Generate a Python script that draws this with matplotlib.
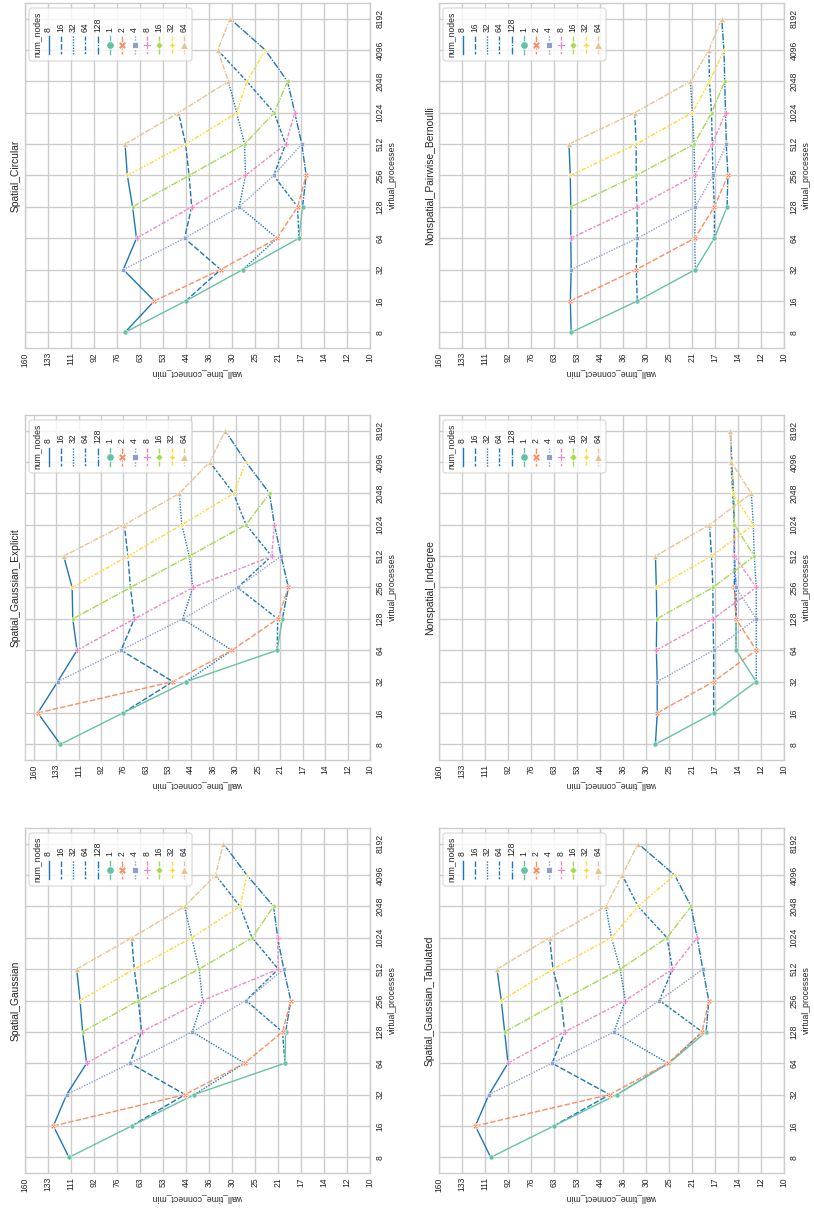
import numpy as np
import matplotlib
matplotlib.use("Agg")
import matplotlib.pyplot as plt
from matplotlib.lines import Line2D
from matplotlib.patches import FancyBboxPatch
from matplotlib.ticker import FixedLocator, NullLocator

plt.rcParams['font.family'] = ['Liberation Sans', 'DejaVu Sans']

# ---------------- data ----------------
num_nodes = [8, 16, 32, 64, 128]
threads = [1, 2, 4, 8, 16, 32, 64]
vp_ticks = [8, 16, 32, 64, 128, 256, 512, 1024, 2048, 4096, 8192]

# wall_time_connect_min ; rows = threads per node (1..64), columns = num_nodes (8..128)
spatial_gaussian = [
    [112.4, 67.9, 41.1, 19.8, 19.7],
    [127.4, 44.2, 27.4, 20.2, 18.9],
    [114.5, 68.8, 41.7, 27.1, 20.0],
    [97.5, 62.7, 38.4, 20.9, 21.0],
    [100.7, 64.3, 39.5, 25.8, 21.7],
    [102.8, 66.5, 41.9, 28.4, 26.9],
    [105.6, 67.9, 44.4, 34.6, 32.5],
]
spatial_gaussian_explicit = [
    [128.4, 76.7, 45.5, 21.5, 20.6],
    [154.8, 50.8, 31.2, 21.4, 19.6],
    [131.3, 77.9, 46.9, 29.8, 20.8],
    [112.0, 69.8, 43.1, 22.5, 22.0],
    [116.0, 72.1, 44.4, 27.8, 22.9],
    [116.6, 73.6, 47.2, 30.8, 27.8],
    [125.0, 75.8, 48.2, 37.5, 33.0],
]
spatial_circular = [
    [71.6, 44.0, 27.8, 17.7, 17.2],
    [56.6, 33.2, 21.1, 17.9, 16.7],
    [72.6, 44.4, 28.6, 21.7, 17.3],
    [65.3, 41.9, 27.2, 19.7, 18.3],
    [67.4, 42.8, 27.4, 21.6, 19.4],
    [70.3, 44.0, 29.2, 26.9, 23.2],
    [71.6, 46.6, 31.2, 34.0, 30.8],
]
spatial_gaussian_tabulated = [
    [105.6, 63.6, 38.3, 25.2, 18.7],
    [119.5, 40.6, 25.4, 19.3, 18.3],
    [107.1, 64.5, 39.2, 27.2, 19.2],
    [91.9, 58.3, 35.8, 24.5, 20.1],
    [94.4, 59.9, 37.3, 25.6, 21.1],
    [97.0, 64.0, 40.0, 32.3, 24.1],
    [100.4, 65.8, 41.9, 36.7, 32.3],
]
nonspatial_indegree = [
    [28.1, 17.6, 12.5, 14.7, 14.7],
    [27.7, 17.6, 12.5, 14.7, 14.9],
    [27.7, 17.6, 12.5, 14.7, 14.9],
    [27.9, 17.7, 12.5, 14.9, 14.9],
    [27.8, 17.7, 12.7, 14.9, 15.0],
    [27.9, 17.9, 12.8, 15.1, 15.2],
    [28.1, 18.2, 13.0, 15.3, 15.4],
]
nonspatial_pairwise_bernoulli = [
    [55.3, 32.5, 20.4, 17.5, 15.8],
    [55.7, 32.8, 20.5, 17.5, 15.7],
    [55.3, 32.5, 20.4, 17.7, 15.9],
    [55.5, 32.6, 20.5, 17.8, 16.0],
    [55.5, 32.8, 20.6, 17.9, 16.1],
    [55.7, 32.8, 20.9, 18.2, 16.2],
    [56.3, 33.2, 21.2, 18.3, 16.5],
]

panel_titles = ["Spatial_Gaussian", "Spatial_Gaussian_Explicit", "Spatial_Circular",
                "Spatial_Gaussian_Tabulated", "Nonspatial_Indegree",
                "Nonspatial_Pairwise_Bernoulli"]
panel_data = [spatial_gaussian, spatial_gaussian_explicit, spatial_circular,
              spatial_gaussian_tabulated, nonspatial_indegree,
              nonspatial_pairwise_bernoulli]
panel_wall_top = [160, 172, 160, 160, 160, 160]

# ---------------- styles ----------------
W, H = 814, 1214
BLUE = '#1f77b4'
set2 = ['#66c2a5', '#fc8d62', '#8da0cb', '#e78ac3', '#a6d854', '#ffd92f', '#e5c494']
dash_list = [(), (4, 1.5), (1, 1), (3, 1.25, 1.5, 1.25), (5, 1, 1, 1),
             (3, 1.25, 1.25, 1.25, 1.25, 1.25), (4, 1, 4, 1, 1, 1)]
marker_list = ['o', 'X', (4, 0, 45), 'P', (4, 0, 0), (4, 1, 0), '^']
GRID = '#cccccc'
TXT = '#262626'
LW = 1.0
FS = 6.2

# axes placement in pixels (left, top) ; size 345x345
AX = 345
col_left = [25, 439]
row_top = [3, 415, 828]
# panel index -> (col, row) in this rotated layout
panel_pos = {0: (0, 2), 1: (0, 1), 2: (0, 0), 3: (1, 2), 4: (1, 1), 5: (1, 0)}

wall_ticks = np.geomspace(10, 160, 16)
wall_labels = [str(int(round(v))) for v in wall_ticks]

fig = plt.figure(figsize=(W / 100, H / 100), dpi=100)


def ls(d):
    return '-' if len(d) == 0 else (0, d)


def legend(ax):
    def fx(px):
        return px / AX

    def fy(py):
        return 1 - py / AX

    box = FancyBboxPatch((fx(4), fy(58)), fx(163), 53 / AX,
                         boxstyle="round,pad=0,rounding_size=0.008",
                         transform=ax.transAxes, facecolor='white', alpha=0.8,
                         edgecolor=GRID, lw=0.8, zorder=5)
    ax.add_patch(box)
    ax.text(fx(12.5), fy(31.5), 'num_nodes', transform=ax.transAxes, rotation=90,
            ha='center', va='center', fontsize=FS, color=TXT, zorder=6)
    labels = [str(n) for n in num_nodes] + [str(t) for t in threads]
    for i, lab in enumerate(labels):
        x = fx(23.5 + 12.3 * i)
        ax.text(x, fy(28.5), lab, transform=ax.transAxes, rotation=90,
                ha='center', va='bottom', fontsize=FS, color=TXT, zorder=6)
        if i < len(num_nodes):
            ax.add_line(Line2D([x, x], [fy(33), fy(51)], transform=ax.transAxes,
                               color=BLUE, lw=LW, linestyle=ls(dash_list[i]), zorder=6))
        else:
            j = i - len(num_nodes)
            ax.add_line(Line2D([x, x], [fy(33), fy(51)], transform=ax.transAxes,
                               color=set2[j], lw=LW, linestyle=ls(dash_list[j]), zorder=6))
            ax.add_line(Line2D([x], [fy(42)], transform=ax.transAxes, color=set2[j],
                               marker=marker_list[j], markersize=5.5,
                               markeredgecolor='white', markeredgewidth=0.6,
                               linestyle='none', zorder=7))


for p, (title, data) in enumerate(zip(panel_titles, panel_data)):
    c, r = panel_pos[p]
    left = col_left[c] / W
    bottom = 1 - (row_top[r] + AX) / H
    ax = fig.add_axes([left, bottom, AX / W, AX / H])
    ax.set_facecolor('white')
    T = np.array(data)

    # lines by num_nodes (blue, style per node count)
    for k, n in enumerate(num_nodes):
        xs = T[:, k]
        ys = [n * t for t in threads]
        ax.plot(xs, ys, color=BLUE, lw=LW, linestyle=ls(dash_list[k]), zorder=2)
    # lines by threads per node (Set2 colours with markers)
    for j, t in enumerate(threads):
        xs = T[j, :]
        ys = [n * t for n in num_nodes]
        ax.plot(xs, ys, color=set2[j], lw=LW, linestyle=ls(dash_list[j]),
                marker=marker_list[j], markersize=3.7, markeredgecolor='white',
                markeredgewidth=0.4, zorder=3)

    ax.set_xscale('log')
    ax.set_yscale('log', base=2)
    ax.set_xlim(panel_wall_top[p], 10)
    ax.set_ylim(vp_ticks[0] / 2 ** 0.5, vp_ticks[-1] * 2 ** 0.5)

    ax.xaxis.set_major_locator(FixedLocator(wall_ticks))
    ax.xaxis.set_minor_locator(NullLocator())
    ax.set_xticklabels(wall_labels, rotation=90)
    ax.yaxis.set_major_locator(FixedLocator(vp_ticks))
    ax.yaxis.set_minor_locator(NullLocator())
    ax.yaxis.tick_right()
    ax.set_yticklabels([str(v) for v in vp_ticks], rotation=90, va='center', ha='left')

    ax.tick_params(axis='both', length=0, labelsize=FS, labelcolor=TXT)
    ax.tick_params(axis='x', pad=3)
    ax.tick_params(axis='y', pad=4)
    ax.grid(True, color=GRID, lw=1.0)
    ax.set_axisbelow(True)
    for s in ax.spines.values():
        s.set_color(GRID)
        s.set_linewidth(1.0)

    ax.set_xlabel('wall_time_connect_min', rotation=180, va='bottom', fontsize=FS,
                  color=TXT, labelpad=8)
    ax.yaxis.set_label_position('right')
    ax.set_ylabel('virtual_processes', rotation=90, fontsize=FS, color=TXT, labelpad=2.5)
    ax.text(-4 / AX, 0.5, title, transform=ax.transAxes, rotation=90,
            ha='right', va='center', fontsize=7.4, color=TXT)

    legend(ax)

fig.savefig('out.png', dpi=100)
